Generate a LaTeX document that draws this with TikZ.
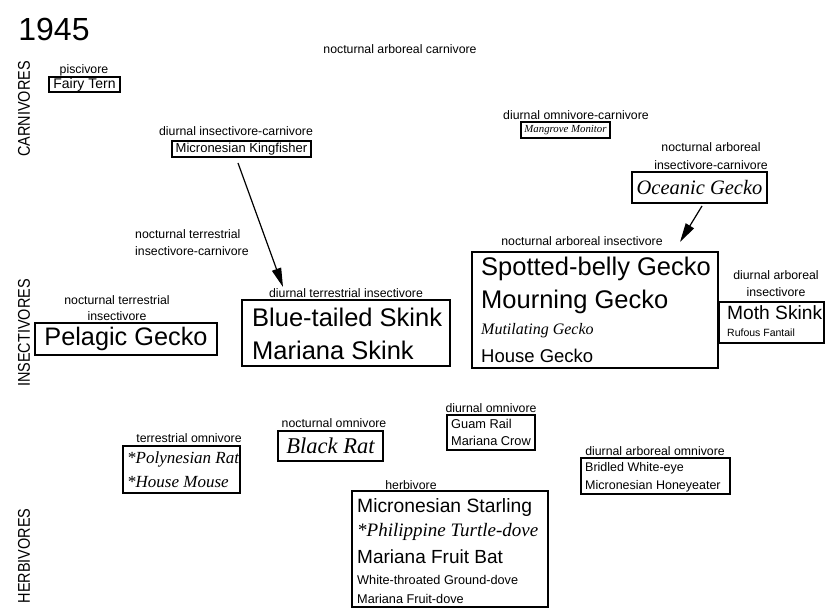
\documentclass[tikz,border=0pt]{standalone}
\usepackage{fontspec}
\setmainfont{Liberation Sans}
\newfontfamily\tms{Liberation Serif}
\usetikzlibrary{arrows.meta,fit}
\newcommand\fsz[1]{\fontsize{#1}{#1}\selectfont}
\newcommand\axtxt[1]{\scalebox{0.85}[1]{#1}}
\begin{document}
\begin{tikzpicture}[x=1pt,y=-1pt,
  lab/.style={font=\fsz{12.3}, inner sep=0pt},
  bx/.style={draw, line width=1.1pt, inner sep=0pt},
  tl/.style={anchor=west, inner sep=0pt},
  serif/.style={font=\tms\itshape\fsz{#1}, inner sep=0pt},
  sans/.style={font=\fsz{#1}, inner sep=0pt},
  axislab/.style={rotate=90, font=\fsz{17}, inner sep=0pt},
  arr/.style={line width=1.2pt, -{Triangle[length=19pt,width=9.5pt]}}]
\useasboundingbox (0,0) rectangle (825,609);

% title and axis labels
\node[sans=32] (yr) at (54,29) {1945};
\node[axislab] (carn) at (24,109) {\axtxt{CARNIVORES}};
\node[axislab] (insc) at (24,333) {\axtxt{INSECTIVORES}};
\node[axislab] (herb) at (24,556) {\axtxt{HERBIVORES}};

% carnivores
\node[lab] (nac) at (400,49) {nocturnal arboreal carnivore};

\node[lab] (pisc) at (84,70) {piscivore};
\node[bx, fit={(49,77)(120,92)}] (ftb) {};
\node[sans=14] (ft) at (ftb.center) {Fairy Tern};

\node[lab] (dic) at (236,131) {diurnal insectivore-carnivore};
\node[bx, fit={(172,141)(311,157)}] (mkb) {};
\node[sans=13] (mk) at (mkb.center) {Micronesian Kingfisher};

\node[lab] (doc) at (576,115) {diurnal omnivore-carnivore};
\node[bx, fit={(521,122)(610,138)}] (mmb) {};
\node[serif=10.8] (mm) at (mmb.center) {Mangrove Monitor};

\node[lab] (naic1) at (711,147) {nocturnal arboreal};
\node[lab] (naic2) at (711,165) {insectivore-carnivore};
\node[bx, fit={(632,172)(767,203)}] (ogb) {};
\node[serif=20.5] (og) at (ogb.center) {Oceanic Gecko};

\node[lab, tl] (ntic1) at (135,234) {nocturnal terrestrial};
\node[lab, tl] (ntic2) at (135,251) {insectivore-carnivore};

% insectivores
\node[lab] (nti1) at (117,300) {nocturnal terrestrial};
\node[lab] (nti2) at (117,316) {insectivore};
\node[bx, fit={(35,323)(217,355)}] (pgb) {};
\node[sans=25.3] (pg) at (pgb.center) {Pelagic Gecko};

\node[lab] (dti) at (346,293) {diurnal terrestrial insectivore};
\node[bx, fit={(242,300)(450,366)}] (dtib) {};
\node[sans=25.5, tl] (bts) at (252,317) {Blue-tailed Skink};
\node[sans=25.5, tl] (msk) at (252,350) {Mariana Skink};

\node[lab] (nai) at (582,241) {nocturnal arboreal insectivore};
\node[bx, fit={(472,252)(718,368)}] (naib) {};
\node[sans=25.5, tl] (sbg) at (481,269) {Spotted-belly Gecko};
\node[sans=25.5, tl] (mgk) at (481,302) {Mourning Gecko};
\node[serif=16, tl] (mtg) at (481,331) {Mutilating Gecko};
\node[sans=18.5, tl] (hgk) at (481,356) {House Gecko};

\node[lab] (dai1) at (776,275) {diurnal arboreal};
\node[lab] (dai2) at (776,292) {insectivore};
\node[bx, fit={(719,302)(824,343)}] (daib) {};
\node[sans=19.2, tl] (msn) at (727,313) {Moth Skink};
\node[sans=10.5, tl] (rft) at (727,333) {Rufous Fantail};

% omnivores
\node[lab] (no) at (334,423) {nocturnal omnivore};
\node[bx, fit={(278,431)(383,461)}] (brb) {};
\node[serif=22.5] (br) at (brb.center) {Black Rat};

\node[lab] (to) at (189,438) {terrestrial omnivore};
\node[bx, fit={(123,446)(240,493)}] (tob) {};
\node[serif=17, tl] (pr) at (127,459) {*Polynesian Rat};
\node[serif=17, tl] (hm) at (127,482) {*House Mouse};

\node[lab] (dom) at (491,408) {diurnal omnivore};
\node[bx, fit={(447,415)(535,450)}] (domb) {};
\node[sans=12.8, tl] (gr) at (451,424) {Guam Rail};
\node[sans=12.8, tl] (mc) at (451,441) {Mariana Crow};

\node[lab] (dao) at (655,451) {diurnal arboreal omnivore};
\node[bx, fit={(581,458)(730,494)}] (daob) {};
\node[sans=12.5, tl] (bwe) at (585,468) {Bridled White-eye};
\node[sans=12.5, tl] (mhe) at (585,486) {Micronesian Honeyeater};

% herbivores
\node[lab] (hv) at (411,485) {herbivore};
\node[bx, fit={(352,491)(548,607)}] (hvb) {};
\node[sans=19.3, tl] (mst) at (357,508) {Micronesian Starling};
\node[serif=19, tl] (ptd) at (357,532) {*Philippine Turtle-dove};
\node[sans=19, tl] (mfb) at (357,557) {Mariana Fruit Bat};
\node[sans=12.7, tl] (wtg) at (357,580) {White-throated Ground-dove};
\node[sans=12.7, tl] (mfd) at (357,599) {Mariana Fruit-dove};

% arrows
\coordinate (a1s) at (238,163);
\coordinate (a1e) at (283,287);
\draw[arr] (a1s) -- (a1e);
\coordinate (a2s) at (702,206);
\coordinate (a2e) at (680,242);
\draw[arr] (a2s) -- (a2e);
\end{tikzpicture}
\end{document}
